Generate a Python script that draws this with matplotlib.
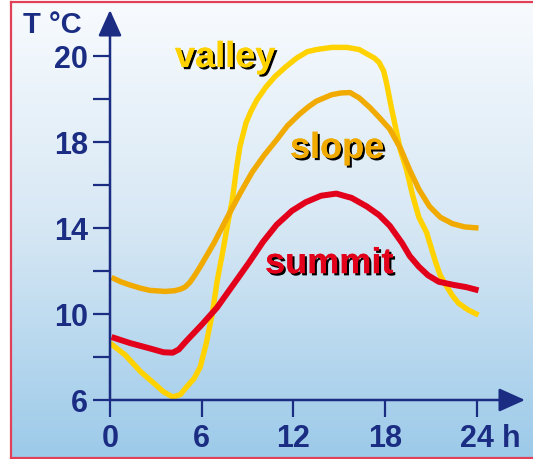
import numpy as np
import matplotlib
matplotlib.use("Agg")
import matplotlib.pyplot as plt
import matplotlib.patheffects as pe
from matplotlib.colors import LinearSegmentedColormap

# hours / temperature (axis runs linear, top tick is drawn as "20")
valley_h = [0, 1, 2, 3, 3.5, 4.1, 4.6, 5.0, 5.5, 5.9, 6.3, 6.7, 7.0, 7.4, 7.7, 8.0, 8.3,
            8.5, 8.9, 9.2, 9.6, 10.2, 10.8, 11.5, 12.2, 12.9, 13.5, 14.5, 15.5, 16.3,
            16.8, 17.3, 17.6, 17.9, 18.1, 18.4, 18.7, 19.0, 19.4, 19.8, 20.2, 20.7,
            21.3, 21.6, 22.0, 22.4, 22.8, 23.4, 24.1]
valley_t = [8.65, 8.09, 7.32, 6.7, 6.38, 6.14, 6.25, 6.6, 7.0, 7.53, 8.65, 10.05, 11.5,
            13.0, 14.2, 15.3, 16.9, 17.8, 18.9, 19.4, 19.95, 20.56, 21.05, 21.5, 21.9,
            22.2, 22.3, 22.4, 22.4, 22.3, 22.1, 21.9, 21.7, 21.3, 20.7, 19.6, 18.6,
            17.6, 16.7, 15.5, 14.5, 13.8, 12.4, 11.8, 11.3, 10.85, 10.5, 10.2, 9.95]

slope_h = [0.1, 0.7, 1.3, 2.0, 2.6, 3.6, 4.2, 4.6, 4.9, 5.2, 5.5, 5.9, 6.8, 7.6, 8.5,
           9.3, 10.1, 10.9, 11.6, 12.4, 13.0, 13.5, 14.0, 14.5, 15.1, 15.7, 16.3, 17.0,
           17.6, 18.3, 19.0, 19.6, 20.2, 20.9, 21.6, 22.4, 23.2, 24.1]
slope_t = [11.7, 11.5, 11.35, 11.2, 11.1, 11.05, 11.08, 11.15, 11.25, 11.45, 11.75,
           12.2, 13.3, 14.4, 15.6, 16.6, 17.4, 18.1, 18.75, 19.3, 19.65, 19.9, 20.05,
           20.2, 20.28, 20.3, 20.05, 19.6, 19.15, 18.6, 17.7, 16.7, 15.8, 15.0, 14.5,
           14.2, 14.05, 14.0]

summit_h = [0.1, 1.3, 2.6, 3.5, 4.1, 4.5, 5.0, 6.0, 7.0, 8.0, 9.1, 10.0, 10.9, 11.9,
            12.8, 13.8, 14.8, 15.8, 16.8, 17.6, 18.3, 18.7, 19.1, 19.6, 20.2, 20.8,
            21.5, 22.5, 23.3, 24.1]
summit_t = [8.93, 8.65, 8.4, 8.22, 8.2, 8.35, 8.75, 9.5, 10.3, 11.3, 12.4, 13.35, 14.15,
            14.8, 15.2, 15.5, 15.6, 15.4, 15.0, 14.6, 14.1, 13.7, 13.3, 12.7, 12.2,
            11.8, 11.5, 11.35, 11.25, 11.1]

xticks = [0, 6, 12, 18, 24]
yticks = [6, 10, 14, 18, 22]
ylabels = ["6", "10", "14", "18", "20"]

navy = "#1b2d83"
c_valley = "#ffd200"
c_slope = "#f0aa00"
c_summit = "#e3001b"
font = "Liberation Sans"

W, H = 533, 459
fig = plt.figure(figsize=(W / 100, H / 100), dpi=100)

# background gradient + red frame
bg = fig.add_axes([11 / W, 1 / H, 1 - 11 / W, 456 / H])
cmap = LinearSegmentedColormap.from_list("bg", ["#f8fbfe", "#d6e7f4", "#9ccae9"])
grad = np.linspace(0, 1, 256).reshape(-1, 1)
bg.imshow(grad, aspect="auto", cmap=cmap, extent=[0, 1, 0, 1], origin="upper")
bg.set_xlim(0, 1)
bg.set_ylim(0, 1)
bg.axis("off")
fig.add_artist(plt.Line2D([11 / W, 11 / W], [1 / H, 457 / H], color="#e04058", lw=1.6))
fig.add_artist(plt.Line2D([11 / W, 1], [457 / H, 457 / H], color="#e04058", lw=1.6))
fig.add_artist(plt.Line2D([11 / W, 1], [1 / H, 1 / H], color="#e04058", lw=1.6))

px_x = 15.29
px_y = 21.5
ax = fig.add_axes([110 / W, 59 / H, 415 / W, 390 / H])
ax.patch.set_alpha(0)
ax.set_xlim(0, 415 / px_x)
ax.set_ylim(6, 6 + 390 / px_y)
for s in ax.spines.values():
    s.set_visible(False)

style = dict(solid_capstyle="butt", solid_joinstyle="round")
ax.plot(valley_h, valley_t, color=c_valley, lw=3.9, zorder=3, **style)
ax.plot(slope_h, slope_t, color=c_slope, lw=3.9, zorder=3, **style)
ax.plot(summit_h, summit_t, color=c_summit, lw=4.3, zorder=4, **style)

# axes with arrows
arr = dict(arrowstyle="-|>,head_length=1.0,head_width=0.45", color=navy, lw=1.8,
           mutation_scale=16, shrinkA=0, shrinkB=0)
ax.annotate("", xy=(1, 0), xytext=(0, 0), xycoords="axes fraction", arrowprops=arr)
ax.annotate("", xy=(0, 1), xytext=(0, 0), xycoords="axes fraction", arrowprops=arr)

ax.set_xticks(xticks)
ax.set_xticklabels([str(v) for v in xticks])
ax.set_yticks(yticks)
ax.set_yticklabels(ylabels)
ax.set_yticks([8, 12, 16, 20], minor=True)
ax.tick_params(axis="both", which="both", length=12, width=1.6, color=navy,
               labelcolor=navy, direction="out")
ax.tick_params(axis="y", pad=4)
ax.tick_params(axis="x", pad=5)
for lab in ax.get_xticklabels() + ax.get_yticklabels():
    lab.set_fontfamily(font)
    lab.set_fontweight("bold")
    lab.set_fontsize(22)

fig.text(23 / W, 1 - 33 / H, "T °C", color=navy, fontfamily=font, fontweight="bold",
         fontsize=21, va="baseline", ha="left")
fig.text(502 / W, 1 - 447 / H, "h", color=navy, fontfamily=font, fontweight="bold",
         fontsize=22, va="baseline", ha="left")

shadow = [pe.withSimplePatchShadow(offset=(1.6, -1.6), shadow_rgbFace="black", alpha=1.0),
          pe.Normal()]
labels = [("valley", 4.25, 21.49, c_valley), ("slope", 11.77, 17.26, c_slope),
          ("summit", 10.14, 11.9, c_summit)]
for txt, x, y, c in labels:
    ax.text(x, y, txt, color=c, fontfamily=font, fontweight="bold", fontsize=26,
            ha="left", va="baseline", path_effects=shadow, zorder=5)

fig.savefig("out.png", dpi=100)
